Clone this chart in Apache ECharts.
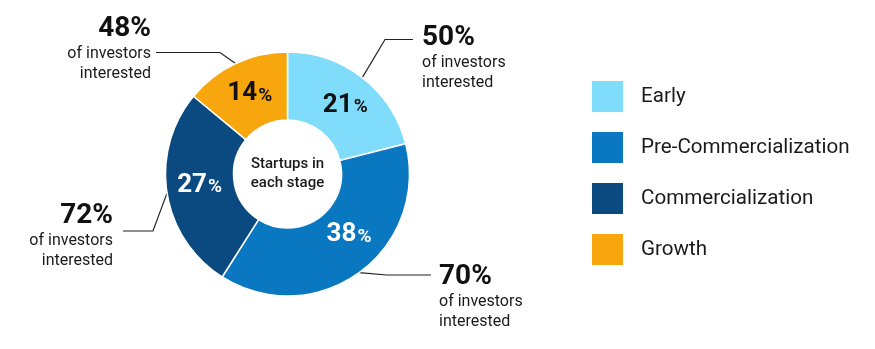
<!DOCTYPE html>
<html><head><meta charset="utf-8">
<script src="https://cdn.jsdelivr.net/npm/echarts@6/dist/echarts.min.js"></script>
<style>html,body{margin:0;padding:0;background:#fff}#c{width:875px;height:349px}</style>
</head><body><div id="c"></div>
<script>
// ---- data ----
const stages = ['Early', 'Pre-Commercialization', 'Commercialization', 'Growth'];
const startupShare = [21, 38, 27, 14];          // % of startups in each stage
const investorInterest = [50, 70, 72, 48];      // % of investors interested
const centerLabel = ['Startups in', 'each stage'];
const calloutLines = ['of investors', 'interested'];

// ---- styling / layout ----
const stageColors = ['#80dcfb', '#0a77c1', '#0a4a81', '#f7a60d'];
const insideLabelColors = ['#111111', '#ffffff', '#ffffff', '#111111'];
const insideNudge = [[2, 3], [8, -13], [2, -3], [1, 2]];
// callout: anchor of label box on the leader side, alignment, horizontal leader length,
// gap between leader and text, invisible spacer above / below the text block
const calloutLayout = [
  { x: 413, y: 40.5, align: 'left',  len2: 28, gap: 9,  top: 35, bottom: 0 },
  { x: 431, y: 276,  align: 'left',  len2: 44, gap: 8,  top: 41, bottom: 0 },
  { x: 123, y: 232,  align: 'right', len2: 30, gap: 10, top: 8,  bottom: 0 },
  { x: 156, y: 52,   align: 'right', len2: 64, gap: 5,  top: 0,  bottom: 6 }
];
const CENTER = [287.5, 174];
const RADIUS = [54, 122];
const FONT = 'Roboto';

const calloutRich = {};
calloutLayout.forEach((c, i) => {
  const pad = c.align === 'left' ? [0, 0, 0, c.gap] : [0, c.gap, 0, 0];
  calloutRich['p' + i] = { fontSize: 28, fontWeight: 'bold', lineHeight: 30, fontFamily: FONT, color: '#111111', padding: pad };
  calloutRich['t' + i] = { fontSize: 16, lineHeight: 20, fontFamily: FONT, color: '#1a1a1a', padding: pad };
  calloutRich['a' + i] = { fontSize: Math.max(c.top, 1), lineHeight: Math.max(c.top, 1), color: 'rgba(0,0,0,0)' };
  calloutRich['b' + i] = { fontSize: Math.max(c.bottom, 1), lineHeight: Math.max(c.bottom, 1), color: 'rgba(0,0,0,0)' };
});

function calloutText(i) {
  const c = calloutLayout[i];
  const lines = [];
  if (c.top > 0) lines.push('{a' + i + '| }');
  lines.push('{p' + i + '|' + investorInterest[i] + '%}');
  calloutLines.forEach(t => lines.push('{t' + i + '|' + t + '}'));
  if (c.bottom > 0) lines.push('{b' + i + '| }');
  return lines.join('\n');
}

const chart = echarts.init(document.getElementById('c'), null, { renderer: 'canvas' });
chart.setOption({
  animation: false,
  backgroundColor: '#ffffff',
  textStyle: { fontFamily: FONT },
  legend: {
    orient: 'vertical', left: 590, top: 79, padding: 0,
    itemWidth: 33, itemHeight: 33, itemGap: 16, icon: 'rect',
    selectedMode: false,
    data: stages,
    textStyle: { fontSize: 20.6, color: '#1a1a1a', fontFamily: FONT, padding: [0, 0, 0, 12] }
  },
  graphic: [{
    type: 'text', x: CENTER[0], y: CENTER[1],
    style: { text: centerLabel.join('\n'), font: '500 15px ' + FONT, fill: '#1a1a1a', align: 'center', verticalAlign: 'middle', lineHeight: 19 }
  }],
  series: [
    {
      type: 'pie', center: CENTER, radius: RADIUS, startAngle: 90, clockwise: true,
      avoidLabelOverlap: false, silent: true,
      itemStyle: { borderColor: '#ffffff', borderWidth: 1.5 },
      label: {
        show: true, position: 'inside', fontFamily: FONT,
        formatter: p => '{n|' + p.value + '}{s|%}',
        rich: {
          n: { fontSize: 26, fontWeight: 'bold', fontFamily: FONT, verticalAlign: 'bottom' },
          s: { fontSize: 19, fontWeight: 'bold', fontFamily: FONT, verticalAlign: 'bottom', padding: [0, 0, 1, 1] }
        }
      },
      labelLine: { show: false },
      labelLayout: p => ({ dx: insideNudge[p.dataIndex][0], dy: insideNudge[p.dataIndex][1] }),
      data: stages.map((n, i) => ({
        name: n, value: startupShare[i],
        itemStyle: { color: stageColors[i] },
        label: { color: insideLabelColors[i] }
      }))
    },
    {
      type: 'pie', center: CENTER, radius: RADIUS, startAngle: 90, clockwise: true,
      avoidLabelOverlap: false, silent: true, legendHoverLink: false,
      itemStyle: { color: 'rgba(0,0,0,0)', borderWidth: 0 },
      label: {
        show: true, position: 'outside', color: '#1a1a1a', fontFamily: FONT,
        formatter: p => calloutText(p.dataIndex),
        rich: calloutRich
      },
      labelLine: { show: true, lineStyle: { color: '#222222', width: 1.2 } },
      labelLayout: p => {
        const c = calloutLayout[p.dataIndex];
        return { x: c.x, y: c.y, align: c.align, verticalAlign: 'middle' };
      },
      data: stages.map((n, i) => ({
        name: n, value: startupShare[i],
        labelLine: { length2: calloutLayout[i].len2 }
      }))
    }
  ]
});
</script>
</body></html>
